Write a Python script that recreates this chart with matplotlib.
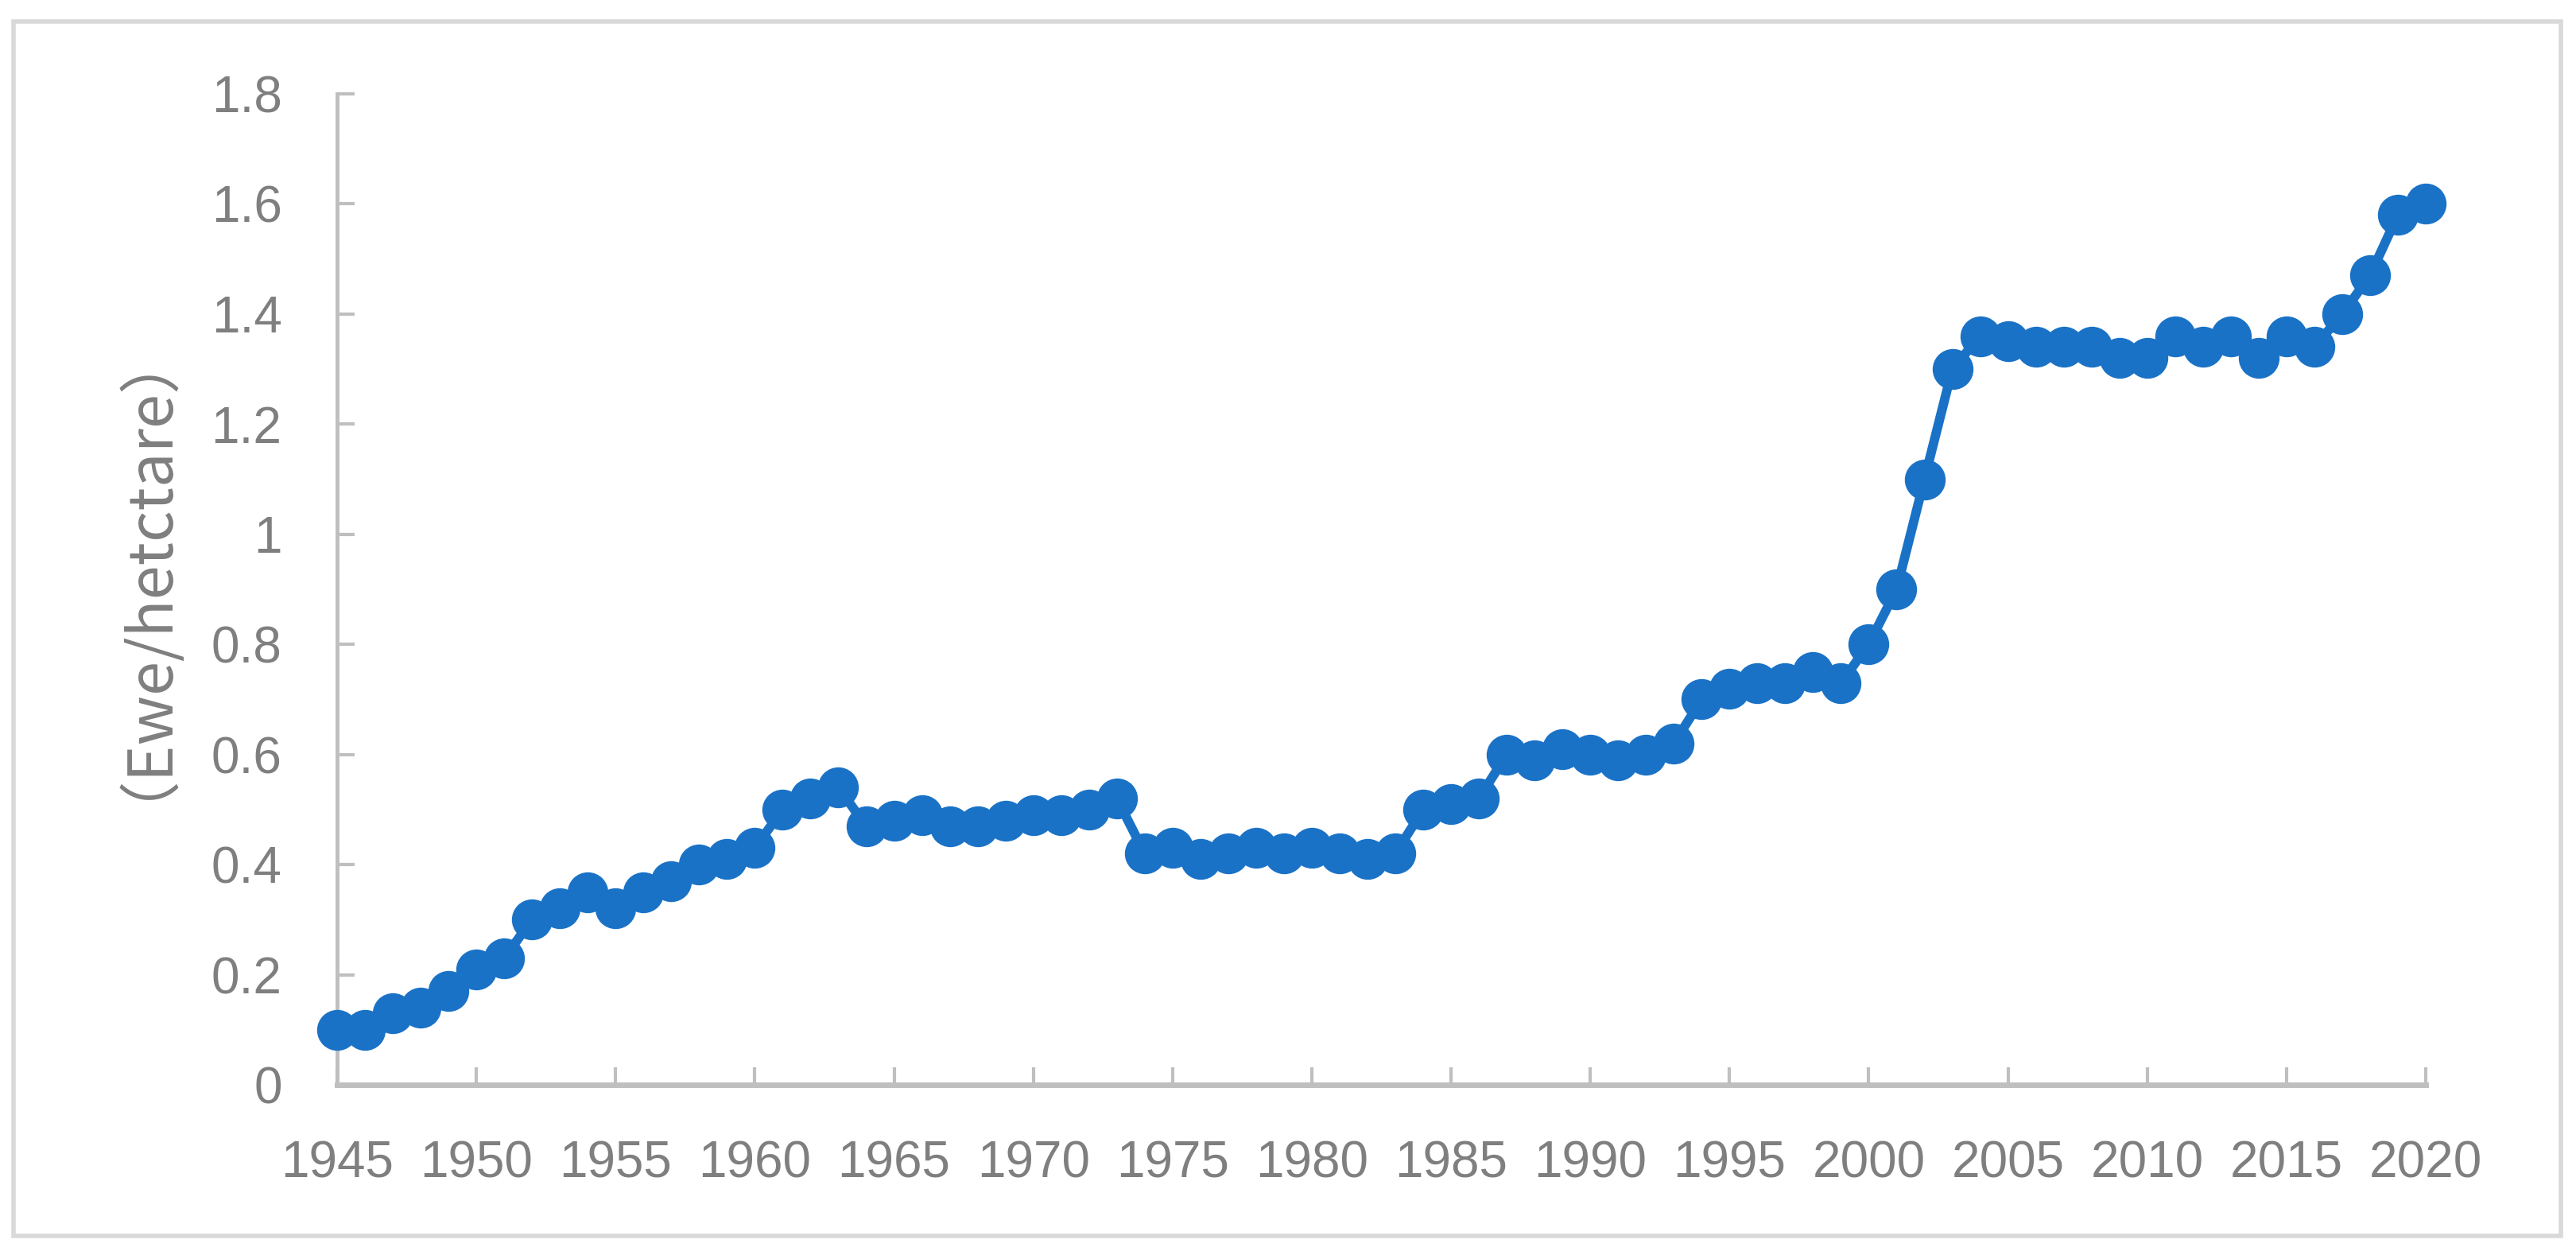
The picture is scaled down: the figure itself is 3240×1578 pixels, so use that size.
import matplotlib
matplotlib.use("Agg")
import matplotlib.pyplot as plt
from matplotlib.patches import Rectangle

years = list(range(1945, 2021))
values = [0.10, 0.10, 0.13, 0.14, 0.17, 0.21, 0.23, 0.30, 0.32, 0.35,
          0.32, 0.35, 0.37, 0.40, 0.41, 0.43, 0.50, 0.52, 0.54, 0.47,
          0.48, 0.49, 0.47, 0.47, 0.48, 0.49, 0.49, 0.50, 0.52, 0.42,
          0.43, 0.41, 0.42, 0.43, 0.42, 0.43, 0.42, 0.41, 0.42, 0.50,
          0.51, 0.52, 0.60, 0.59, 0.61, 0.60, 0.59, 0.60, 0.62, 0.70,
          0.72, 0.73, 0.73, 0.75, 0.73, 0.80, 0.90, 1.10, 1.30, 1.36,
          1.35, 1.34, 1.34, 1.34, 1.32, 1.32, 1.36, 1.34, 1.36, 1.32,
          1.36, 1.34, 1.40, 1.47, 1.58, 1.60]
xticks = list(range(1945, 2021, 5))
yticks = [0, 0.2, 0.4, 0.6, 0.8, 1.0, 1.2, 1.4, 1.6, 1.8]
ytick_labels = ["0", "0.2", "0.4", "0.6", "0.8", "1", "1.2", "1.4", "1.6", "1.8"]
ylabel = "（Ewe/hetctare）"

W, H, DPI = 3241, 1578, 100
fig = plt.figure(figsize=(W / DPI, H / DPI), dpi=DPI)
fig.patch.set_facecolor("white")

ax = fig.add_axes([424 / W, 1 - 1364 / H, (3051 - 424) / W, (1364 - 118) / H])
ax.plot(years, values, color="#1A72C6", lw=8.5, marker="o", markersize=37,
        markeredgewidth=0, solid_joinstyle="round", clip_on=False, zorder=3)

ax.set_xlim(1945, 2020)
ax.set_ylim(0, 1.8)
ax.set_xticks(xticks)
ax.set_xticklabels([str(x) for x in xticks])
ax.set_yticks(yticks)
ax.set_yticklabels(ytick_labels)

for s in ["top", "right"]:
    ax.spines[s].set_visible(False)
ax.spines["left"].set_color("#BFBFBF")
ax.spines["left"].set_linewidth(3.5)
ax.spines["bottom"].set_color("#BFBFBF")
ax.spines["bottom"].set_linewidth(5)

tickfont = "Liberation Sans"
ax.tick_params(axis="x", direction="in", length=16, width=3, color="#BFBFBF",
               labelcolor="#7F7F7F", labelsize=46, pad=50)
ax.tick_params(axis="y", direction="in", length=16, width=3, color="#BFBFBF",
               labelcolor="#7F7F7F", labelsize=46, pad=50)
for lab in ax.get_xticklabels() + ax.get_yticklabels():
    lab.set_family(tickfont)

fig.text(142 / W, 1 - 684 / H, ylabel, rotation=90, ha="center", va="center",
         fontsize=56, color="#7F7F7F",
         family=["Liberation Sans Narrow", "Noto Sans CJK SC"])

fig.patches.append(Rectangle((17 / W, 1 - 1554 / H), (3221 - 17) / W, (1554 - 27) / H,
                             transform=fig.transFigure, fill=False,
                             edgecolor="#D9D9D9", linewidth=4))

fig.savefig("out.png", dpi=DPI)
